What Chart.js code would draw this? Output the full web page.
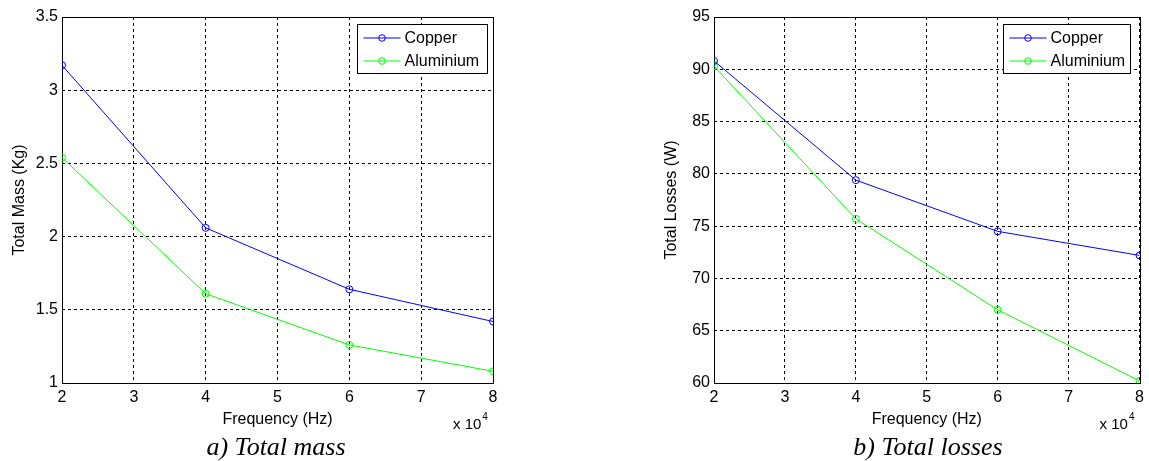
<!DOCTYPE html>
<html>
<head>
<meta charset="utf-8">
<script src="https://cdn.jsdelivr.net/npm/chart.js@4/dist/chart.umd.min.js"></script>
<style>
  body { margin: 0; background: #fff; width: 1149px; height: 461px; position: relative; overflow: hidden; }
  .box { position: absolute; top: 0; height: 440px; }
  .caption { position: absolute; top: 432px; font: italic 26px "Liberation Serif", "Times New Roman", serif; color: #000; transform: translateX(-50%); white-space: nowrap; }
</style>
</head>
<body>
<div class="box" style="left:0;width:574px"><canvas id="massChart"></canvas></div>
<div class="box" style="left:574px;width:575px"><canvas id="lossChart"></canvas></div>
<div class="caption" style="left:276px">a) Total mass</div>
<div class="caption" style="left:928px">b) Total losses</div>
<script>
// ===== DATA =====
const freq = [2, 4, 6, 8];              // frequency, x 10^4 Hz
const seriesNames = ['Copper', 'Aluminium'];
const seriesColors = ['#0000ff', '#00ff00'];
const massCopper = [3.17, 2.06, 1.64, 1.42];
const massAlu = [2.54, 1.61, 1.26, 1.08];
const lossCopper = [90.8, 79.4, 74.5, 72.2];
const lossAlu = [90.3, 75.7, 67.0, 60.2];
const massTicks = [1, 1.5, 2, 2.5, 3, 3.5];
const lossTicks = [60, 65, 70, 75, 80, 85, 90, 95];
const freqTicks = [2, 3, 4, 5, 6, 7, 8];

const FONT = '"Liberation Sans", Arial, sans-serif';

// frame, legend box and x10^4 note, matlab style
const matlabPlugin = {
    id: 'matlab',
    beforeDatasetsDraw(chart) {
        const { ctx, chartArea: a } = chart;
        ctx.save();
        ctx.strokeStyle = '#000';
        ctx.lineWidth = 1;
        ctx.strokeRect(Math.round(a.left) + 0.5, Math.round(a.top) + 0.5,
            Math.round(a.right - a.left), Math.round(a.bottom - a.top));
        ctx.restore();
    },
    afterDraw(chart, args, opts) {
        const { ctx, chartArea: a } = chart;
        ctx.save();
        // legend
        const w = opts.legendWidth, h = 49;
        const x0 = Math.round(a.right - opts.legendRight - w) + 0.5;
        const y0 = Math.round(a.top + 7) + 0.5;
        ctx.fillStyle = '#fff';
        ctx.fillRect(x0, y0, w, h);
        ctx.strokeStyle = '#000';
        ctx.strokeRect(x0, y0, w, h);
        ctx.font = '16px ' + FONT;
        ctx.textBaseline = 'middle';
        chart.data.datasets.forEach((ds, i) => {
            const cy = y0 + 13.5 + i * 23;
            ctx.strokeStyle = ds.borderColor;
            ctx.beginPath();
            ctx.moveTo(x0 + 6, cy);
            ctx.lineTo(x0 + 43, cy);
            ctx.stroke();
            ctx.beginPath();
            ctx.arc(x0 + 24.5, cy, 3.3, 0, Math.PI * 2);
            ctx.stroke();
            ctx.fillStyle = '#000';
            ctx.fillText(ds.label, x0 + 47, cy + 1);
        });
        // exponent note
        ctx.fillStyle = '#000';
        ctx.textBaseline = 'alphabetic';
        ctx.textAlign = 'left';
        ctx.font = '15px ' + FONT;
        const nx = a.right - 40;
        ctx.fillText('x 10', nx, a.bottom + 46);
        const tw = ctx.measureText('x 10').width;
        ctx.font = '10px ' + FONT;
        ctx.fillText('4', nx + tw + 1, a.bottom + 37);
        ctx.restore();
    }
};

function makeDatasets(values) {
    return values.map((vals, i) => ({
        label: seriesNames[i],
        data: freq.map((f, j) => ({ x: f, y: vals[j] })),
        borderColor: seriesColors[i],
        backgroundColor: 'transparent',
        borderWidth: 1,
        pointStyle: 'circle',
        pointRadius: 3.5,
        pointBorderWidth: 1,
        pointBorderColor: seriesColors[i],
        pointBackgroundColor: 'transparent',
        tension: 0
    }));
}

function makeChart(id, values, yTicks, yTitle, pad, legendWidth, legendRight) {
    const grid = {
        color: '#000',
        lineWidth: 1,
        drawTicks: false
    };
    const tickFont = { family: FONT, size: 16 };
    const titleFont = { family: FONT, size: 16, lineHeight: 1 };
    return new Chart(document.getElementById(id), {
        type: 'line',
        data: { datasets: makeDatasets(values) },
        options: {
            responsive: false,
            animation: false,
            events: [],
            layout: { padding: pad },
            plugins: {
                legend: { display: false },
                tooltip: { enabled: false },
                matlab: { legendWidth, legendRight }
            },
            scales: {
                x: {
                    type: 'linear',
                    min: freqTicks[0],
                    max: freqTicks[freqTicks.length - 1],
                    afterBuildTicks: s => { s.ticks = freqTicks.map(v => ({ value: v })); },
                    afterFit: s => { s.height = 42; },
                    grid: grid,
                    border: { display: false, dash: [3, 3] },
                    ticks: { color: '#000', font: tickFont, padding: 5, maxRotation: 0, callback: v => String(v) },
                    title: { display: true, text: 'Frequency (Hz)', color: '#000', font: titleFont, padding: { top: 0, bottom: -3 } }
                },
                y: {
                    type: 'linear',
                    min: yTicks[0],
                    max: yTicks[yTicks.length - 1],
                    afterBuildTicks: s => { s.ticks = yTicks.map(v => ({ value: v })); },
                    afterFit: s => { s.width = 62; },
                    grid: grid,
                    border: { display: false, dash: [3, 3] },
                    ticks: { color: '#000', font: tickFont, padding: 4, callback: v => String(v) },
                    title: { display: true, text: yTitle, color: '#000', font: titleFont, padding: { top: 12, bottom: 0 } }
                }
            }
        },
        plugins: [matlabPlugin]
    });
}

function sizeCanvas(id, w, h) {
    const c = document.getElementById(id);
    c.width = w; c.height = h;
    c.style.width = w + 'px'; c.style.height = h + 'px';
}

sizeCanvas('massChart', 574, 440);
sizeCanvas('lossChart', 575, 440);

makeChart('massChart', [massCopper, massAlu], massTicks, 'Total Mass (Kg)',
    { left: 0, top: 17, right: 81, bottom: 15 }, 130, 6);
makeChart('lossChart', [lossCopper, lossAlu], lossTicks, 'Total Losses (W)',
    { left: 78, top: 17, right: 4, bottom: 15 }, 127, 10);
</script>
</body>
</html>
